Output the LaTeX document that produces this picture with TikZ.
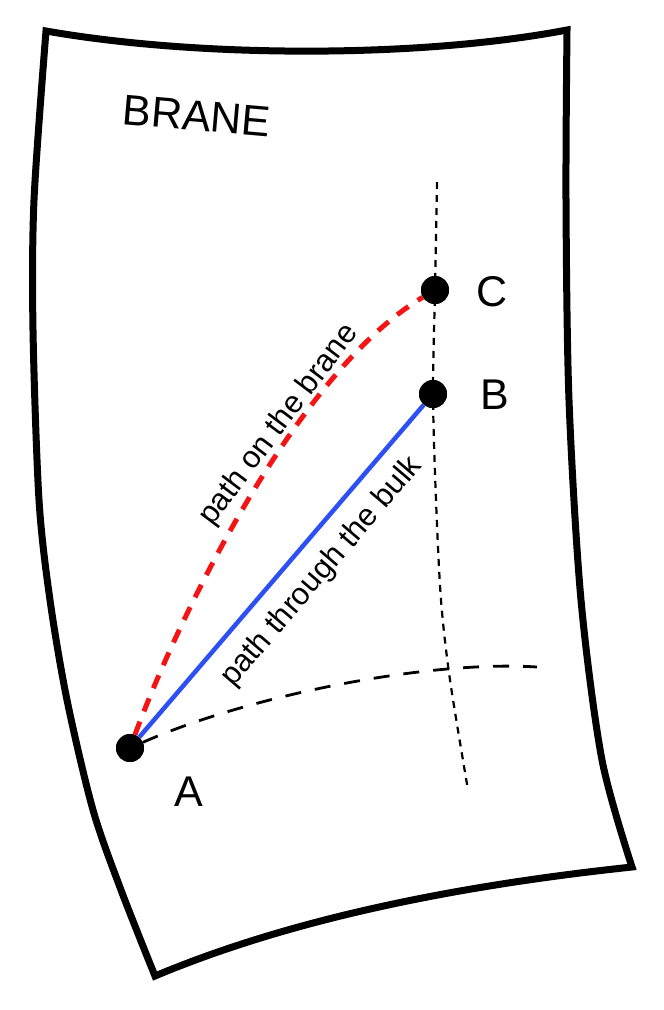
\documentclass[tikz,border=0pt]{standalone}
\usepackage{fontspec}
\setmainfont{Liberation Sans}
\definecolor{bulkblue}{RGB}{45,80,245}
\definecolor{branered}{RGB}{245,20,20}
\begin{document}
\begin{tikzpicture}[x=1pt,y=-1pt,
  outline/.style={line width=7pt, line join=miter, miter limit=6},
  dot/.style={circle, fill=black, inner sep=0pt, minimum size=28pt},
  biglabel/.style={font=\fontsize{43}{50}\selectfont, inner sep=0pt},
  pathlabel/.style={font=\fontsize{31}{36}\selectfont, inner sep=0pt},
  gridv/.style={line width=2.2pt, dash pattern=on 7pt off 6pt},
  gridh/.style={line width=2.8pt, dash pattern=on 16pt off 14pt},
  bulk/.style={line width=4.5pt, draw=bulkblue},
  branepath/.style={line width=5pt, draw=branered, dash pattern=on 14pt off 11pt}]
\useasboundingbox (0,0) rectangle (664,1010);
% sheet outline
\draw[outline] (46,31) .. controls (200,58) and (420,58) .. (567,30)
  -- plot[smooth] coordinates {(567,30) (566,200) (569,400) (581,600) (602,760) (632,867)}
  -- (632,867) .. controls (482,883) and (305,913) .. (155,976)
  -- plot[smooth] coordinates {(155,976) (121,890) (93,810) (67,700) (50,600) (39,500) (33,330) (34,200) (46,31)}
  -- cycle;
% points
\node[dot] (A) at (130,748) {};
\node[dot] (B) at (433,394) {};
\node[dot] (C) at (435,290) {};
% grid lines
\draw[gridv] plot[smooth] coordinates {(437,182) (435,290) (433,394) (436,500) (441,600) (450,680) (468,790)};
\coordinate (hend) at (537,667);
\draw[gridh] (A) .. controls (250,695) and (430,660) .. (hend);
% paths
\draw[branepath] (A) .. controls (182,608) and (300,370) .. (C);
\draw[bulk] (A) -- (B);
% redraw dots on top
\node[dot] at (A) {};
\node[dot] at (B) {};
\node[dot] at (C) {};
% labels
\node[biglabel, rotate=-5] (brane) at (197,116) {BRANE};
\node[biglabel] (labA) at (189,792) {A};
\node[biglabel] (labB) at (495,395) {B};
\node[biglabel] (labC) at (492,292) {C};
\node[pathlabel, rotate=53] (lbrane) at (279,425) {path on the brane};
\node[pathlabel, rotate=49.5] (lbulk) at (322,572) {path through the bulk};
\end{tikzpicture}
\end{document}
